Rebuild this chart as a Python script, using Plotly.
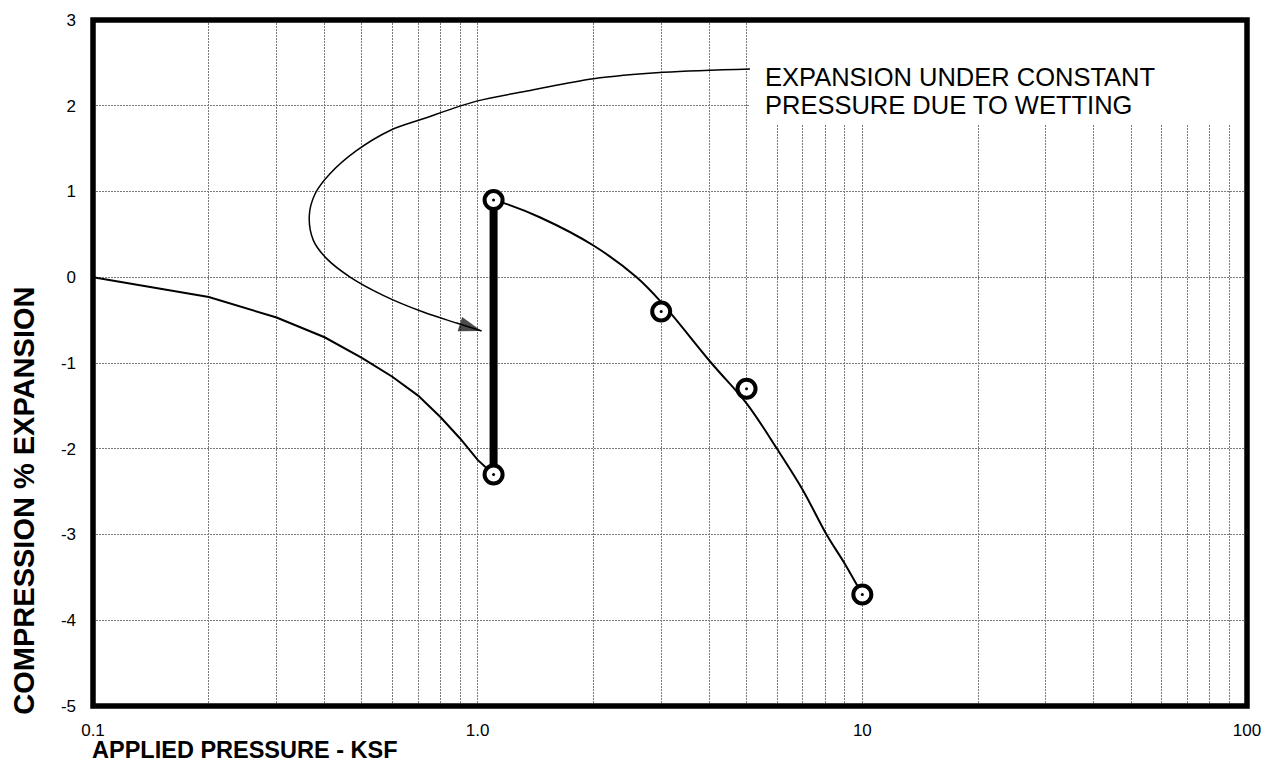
import plotly.graph_objects as go

# ---------------- data ----------------
# Loading curve before wetting (dry)
DRY_X = [0.1, 0.2, 0.3, 0.4, 0.5, 0.6, 0.7, 0.8, 0.9, 1.0, 1.1]
DRY_Y = [0.0, -0.23, -0.47, -0.70, -0.94, -1.16, -1.38, -1.63, -1.88, -2.13, -2.30]

# Expansion under constant pressure due to wetting
WET_X = [1.1, 1.1]
WET_Y = [-2.3, 0.9]

# Loading curve after wetting
AFTER_X = [1.1, 1.17, 1.45, 2.0, 2.59, 3.0, 4.05, 5.0, 6.0, 7.0, 8.07, 9.0, 10.0]
AFTER_Y = [0.90, 0.865, 0.70, 0.37, 0.0, -0.29, -1.0, -1.47, -2.0, -2.48, -3.0, -3.34, -3.70]

# Measured points (circled)
PT_X = [1.1, 1.1, 3.0, 5.0, 10.0]
PT_Y = [0.9, -2.3, -0.4, -1.3, -3.7]

# Leader curve of the note (ends in an arrow)
LEADER_X = [5.12, 3.04, 2.0, 1.37, 0.994, 0.722, 0.592, 0.485, 0.413, 0.378,
            0.365, 0.374, 0.405, 0.466, 0.568, 0.722, 0.882, 1.024]
LEADER_Y = [2.43, 2.39, 2.315, 2.178, 2.054, 1.848, 1.712, 1.479, 1.207, 0.974,
            0.721, 0.43, 0.217, 0.002, -0.211, -0.406, -0.534, -0.627]

NOTE_LINES = ["EXPANSION UNDER CONSTANT", "PRESSURE DUE TO WETTING"]

X_DECADES = [0.1, 1, 10, 100]
X_TICK_LABELS = ["0.1", "1.0", "10", "100"]
Y_TICKS = [-5, -4, -3, -2, -1, 0, 1, 2, 3]
Y_TICK_LABELS = ["-5", "-4", "-3", "-2", "-1", "0", "1", "2", "3"]

X_TITLE = "APPLIED PRESSURE - KSF"
Y_TITLE = "COMPRESSION % EXPANSION"

# ---------------- figure ----------------
FONT = "Liberation Sans, Arial, sans-serif"
fig = go.Figure()

fig.add_trace(go.Scatter(x=DRY_X, y=DRY_Y, mode="lines",
                         line=dict(color="black", width=2), hoverinfo="skip"))
fig.add_trace(go.Scatter(x=AFTER_X, y=AFTER_Y, mode="lines",
                         line=dict(color="black", width=2, shape="spline", smoothing=1.0),
                         hoverinfo="skip"))
fig.add_trace(go.Scatter(x=WET_X, y=WET_Y, mode="lines",
                         line=dict(color="black", width=8), hoverinfo="skip"))
fig.add_trace(go.Scatter(x=LEADER_X, y=LEADER_Y, mode="lines",
                         line=dict(color="black", width=1.5, shape="spline", smoothing=1.0),
                         hoverinfo="skip"))
# arrow head at end of leader
fig.add_trace(go.Scatter(x=LEADER_X[-2:], y=LEADER_Y[-2:], mode="markers",
                         marker=dict(symbol="arrow", size=[0, 24], color="black",
                                     angleref="previous", line=dict(width=0)),
                         hoverinfo="skip"))
# circled points
fig.add_trace(go.Scatter(x=PT_X, y=PT_Y, mode="markers",
                         marker=dict(symbol="circle", size=18, color="white",
                                     line=dict(color="black", width=4)),
                         hoverinfo="skip", cliponaxis=False))
fig.add_trace(go.Scatter(x=PT_X, y=PT_Y, mode="markers",
                         marker=dict(symbol="circle", size=3, color="black",
                                     line=dict(width=0)),
                         hoverinfo="skip", cliponaxis=False))

# grid positions for log axis: every integer multiple within each decade
x_tickvals, x_ticktext = [], []
for i, d in enumerate(X_DECADES):
    if i == len(X_DECADES) - 1:
        x_tickvals.append(d)
        x_ticktext.append(X_TICK_LABELS[i])
        break
    for m in range(1, 10):
        x_tickvals.append(d * m)
        x_ticktext.append(X_TICK_LABELS[i] if m == 1 else "")

GRID = dict(showgrid=True, gridcolor="#7a7a7a", gridwidth=1, griddash="2px,1px",
            zeroline=False, showline=False, ticks="", automargin=False)

fig.update_xaxes(type="log", range=[-1, 2], tickvals=x_tickvals, ticktext=x_ticktext,
                 tickfont=dict(family=FONT, size=17, color="black"),
                 ticklabelstandoff=12, **GRID)
fig.update_yaxes(range=[-5, 3], tickvals=Y_TICKS, ticktext=Y_TICK_LABELS,
                 tickfont=dict(family=FONT, size=17, color="black"),
                 ticklabelstandoff=16, **GRID)

# white background behind the note
fig.add_shape(type="rect", xref="paper", yref="paper", x0=0.5693, x1=1.0,
              y0=0.847, y1=1.0, fillcolor="white", line=dict(width=0), layer="above")
# heavy frame
fig.add_shape(type="rect", xref="paper", yref="paper", x0=0, x1=1, y0=0, y1=1,
              line=dict(color="black", width=5.5), fillcolor="rgba(0,0,0,0)", layer="above")

for txt, yp in zip(NOTE_LINES, [0.9162, 0.8768]):
    fig.add_annotation(text=txt, xref="paper", yref="paper", x=0.5806, y=yp,
                       xanchor="left", yanchor="middle", showarrow=False,
                       font=dict(family=FONT, size=25.5, color="black"))

fig.add_annotation(text="<b>" + X_TITLE + "</b>", xref="paper", yref="paper",
                   x=-0.002, y=-0.0852, xanchor="left", yanchor="bottom", showarrow=False,
                   borderpad=0, font=dict(family=FONT, size=23.5, color="black"))
fig.add_annotation(text="<b>" + Y_TITLE + "</b>", xref="paper", yref="paper",
                   x=-0.0594, y=0.300, xanchor="center", yanchor="middle", textangle=-90,
                   showarrow=False, font=dict(family=FONT, size=29, color="black"))

# the page places the figure 8px in from the top-left corner (default body margin)
fig.update_layout(width=1261, height=757, showlegend=False,
                  margin=dict(l=85, r=22, t=11.5, b=59, autoexpand=False),
                  paper_bgcolor="white", plot_bgcolor="white")

fig.write_html("out.html")
